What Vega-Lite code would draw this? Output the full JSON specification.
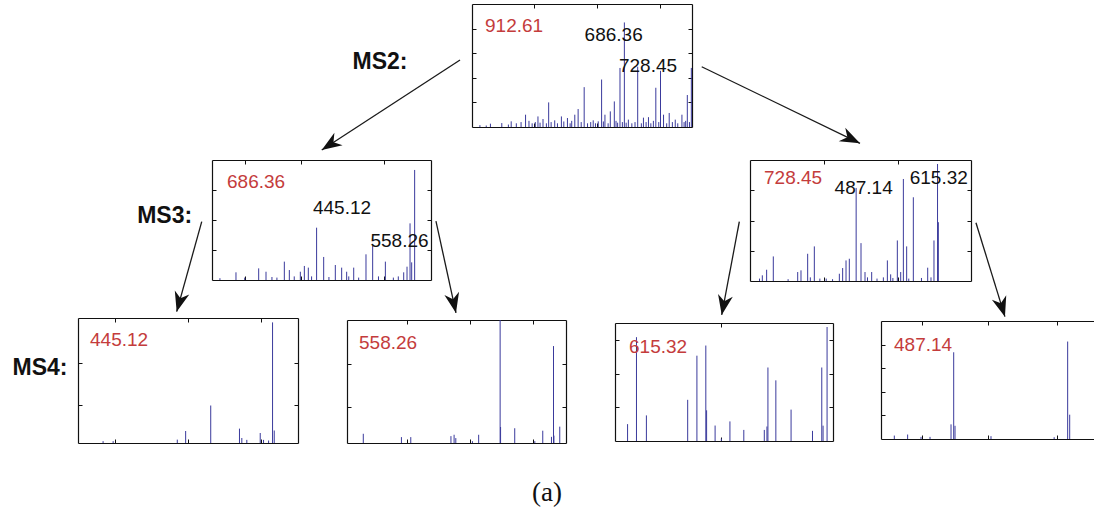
{
"$schema": "https://vega.github.io/schema/vega-lite/v6.json",
"width": 1094, "height": 514, "padding": 0, "autosize": {"type": "none"},
"background": "white",
"config": {"view": {"stroke": null}, "axis": {"labels": false, "title": null, "grid": false, "domainColor": "#111", "tickColor": "#111", "tickSize": -4, "domainWidth": 1.2, "tickWidth": 1}},
"datasets": {
"peaks": [
{"panel":"P1","mz":263.2,"intensity":2.7},{"panel":"P1","mz":299.1,"intensity":3.2},{"panel":"P1","mz":328.8,"intensity":4.6},{"panel":"P1","mz":374.2,"intensity":10},{"panel":"P1","mz":413.4,"intensity":8.6},{"panel":"P1","mz":429.3,"intensity":6.5},{"panel":"P1","mz":447.2,"intensity":20},{"panel":"P1","mz":466.3,"intensity":5.4},{"panel":"P1","mz":487.4,"intensity":8.6},{"panel":"P1","mz":506.5,"intensity":7.3},{"panel":"P1","mz":529.7,"intensity":10},{"panel":"P1","mz":540.3,"intensity":14.6},{"panel":"P1","mz":559.4,"intensity":32.4},{"panel":"P1","mz":587.9,"intensity":5.4},{"panel":"P1","mz":603.8,"intensity":4.6},{"panel":"P1","mz":614.4,"intensity":38.6},{"panel":"P1","mz":625.0,"intensity":10},{"panel":"P1","mz":641.9,"intensity":12.7},{"panel":"P1","mz":654.6,"intensity":20.8},{"panel":"P1","mz":672.5,"intensity":48},{"panel":"P1","mz":686.36,"intensity":85},{"panel":"P1","mz":699.0,"intensity":6},{"panel":"P1","mz":728.45,"intensity":49},{"panel":"P1","mz":746.6,"intensity":7.6},{"panel":"P1","mz":762.5,"intensity":8},{"panel":"P1","mz":785.7,"intensity":31.9},{"panel":"P1","mz":800.5,"intensity":45.7},{"panel":"P1","mz":810.1,"intensity":10},{"panel":"P1","mz":828.0,"intensity":11.4},{"panel":"P1","mz":847.1,"intensity":6},{"panel":"P1","mz":868.2,"intensity":10},{"panel":"P1","mz":885.2,"intensity":26},{"panel":"P1","mz":897.9,"intensity":48},
{"panel":"P1","mz":230,"intensity":1.5},{"panel":"P1","mz":250,"intensity":1.2},{"panel":"P1","mz":320,"intensity":2},{"panel":"P1","mz":345,"intensity":3},{"panel":"P1","mz":360,"intensity":4},{"panel":"P1","mz":385,"intensity":5},{"panel":"P1","mz":395,"intensity":3},{"panel":"P1","mz":405,"intensity":4},{"panel":"P1","mz":420,"intensity":3.5},{"panel":"P1","mz":440,"intensity":3},{"panel":"P1","mz":455,"intensity":4},{"panel":"P1","mz":475,"intensity":3},{"panel":"P1","mz":495,"intensity":4.5},{"panel":"P1","mz":515,"intensity":3},{"panel":"P1","mz":520,"intensity":5},{"panel":"P1","mz":550,"intensity":4},{"panel":"P1","mz":570,"intensity":3},{"panel":"P1","mz":580,"intensity":4},{"panel":"P1","mz":595,"intensity":3},{"panel":"P1","mz":620,"intensity":4.5},{"panel":"P1","mz":635,"intensity":3},{"panel":"P1","mz":660,"intensity":5},{"panel":"P1","mz":665,"intensity":3.5},{"panel":"P1","mz":680,"intensity":4},{"panel":"P1","mz":692,"intensity":3.5},{"panel":"P1","mz":710,"intensity":3},{"panel":"P1","mz":720,"intensity":4},{"panel":"P1","mz":740,"intensity":3},{"panel":"P1","mz":755,"intensity":4},{"panel":"P1","mz":770,"intensity":3},{"panel":"P1","mz":778,"intensity":5},{"panel":"P1","mz":795,"intensity":4},{"panel":"P1","mz":820,"intensity":3},{"panel":"P1","mz":838,"intensity":4},{"panel":"P1","mz":855,"intensity":3},{"panel":"P1","mz":875,"intensity":4},{"panel":"P1","mz":880,"intensity":5},{"panel":"P1","mz":892,"intensity":4},
{"panel":"P2","mz":282.4,"intensity":6.4},{"panel":"P2","mz":328.2,"intensity":9.7},{"panel":"P2","mz":343.0,"intensity":6.9},{"panel":"P2","mz":380.0,"intensity":15.3},{"panel":"P2","mz":390.1,"intensity":8.3},{"panel":"P2","mz":412.3,"intensity":6.9},{"panel":"P2","mz":420.4,"intensity":11.7},{"panel":"P2","mz":428.4,"intensity":10.3},{"panel":"P2","mz":445.12,"intensity":43.6},{"panel":"P2","mz":459.4,"intensity":19.2},{"panel":"P2","mz":482.9,"intensity":12.5},{"panel":"P2","mz":495.7,"intensity":10.3},{"panel":"P2","mz":505.8,"intensity":6.9},{"panel":"P2","mz":520.0,"intensity":10.3},{"panel":"P2","mz":544.8,"intensity":21.4},{"panel":"P2","mz":558.26,"intensity":28.6},{"panel":"P2","mz":583.9,"intensity":15.3},{"panel":"P2","mz":620.9,"intensity":6.4},{"panel":"P2","mz":627.6,"intensity":11.1},{"panel":"P2","mz":633.7,"intensity":47.2},{"panel":"P2","mz":637.0,"intensity":14.7},{"panel":"P2","mz":643.0,"intensity":91.7},
{"panel":"P2","mz":250,"intensity":1.5},{"panel":"P2","mz":300,"intensity":2},{"panel":"P2","mz":355,"intensity":2.5},{"panel":"P2","mz":365,"intensity":2},{"panel":"P2","mz":400,"intensity":3},{"panel":"P2","mz":435,"intensity":3},{"panel":"P2","mz":470,"intensity":2.5},{"panel":"P2","mz":510,"intensity":3},{"panel":"P2","mz":530,"intensity":2},{"panel":"P2","mz":570,"intensity":3},{"panel":"P2","mz":600,"intensity":2},{"panel":"P2","mz":610,"intensity":3},
{"panel":"P3","mz":339.4,"intensity":4.7},{"panel":"P3","mz":346.2,"intensity":9.3},{"panel":"P3","mz":356.7,"intensity":20.3},{"panel":"P3","mz":395.1,"intensity":7.4},{"panel":"P3","mz":400.3,"intensity":8.8},{"panel":"P3","mz":410.8,"intensity":22.5},{"panel":"P3","mz":421.3,"intensity":28.6},{"panel":"P3","mz":460.7,"intensity":6},{"panel":"P3","mz":465.9,"intensity":10.7},{"panel":"P3","mz":471.2,"intensity":17},{"panel":"P3","mz":476.4,"intensity":18.4},{"panel":"P3","mz":487.14,"intensity":76.9},{"panel":"P3","mz":494.8,"intensity":31.3},{"panel":"P3","mz":501.1,"intensity":7.4},{"panel":"P3","mz":511.6,"intensity":7.4},{"panel":"P3","mz":536.3,"intensity":17},{"panel":"P3","mz":541.5,"intensity":5.5},{"panel":"P3","mz":552.0,"intensity":33.5},{"panel":"P3","mz":557.3,"intensity":7.4},{"panel":"P3","mz":561.5,"intensity":84.3},{"panel":"P3","mz":566.7,"intensity":28.6},{"panel":"P3","mz":577.2,"intensity":69.2},{"panel":"P3","mz":599.8,"intensity":11},{"panel":"P3","mz":609.7,"intensity":33.5},{"panel":"P3","mz":615.32,"intensity":96.7},{"panel":"P3","mz":616.6,"intensity":48.6},
{"panel":"P3","mz":335,"intensity":2},{"panel":"P3","mz":380,"intensity":1.5},{"panel":"P3","mz":415,"intensity":3},{"panel":"P3","mz":430,"intensity":2},{"panel":"P3","mz":440,"intensity":2},{"panel":"P3","mz":450,"intensity":1.5},{"panel":"P3","mz":505,"intensity":3},{"panel":"P3","mz":520,"intensity":2},{"panel":"P3","mz":530,"intensity":3},{"panel":"P3","mz":545,"intensity":2.5},{"panel":"P3","mz":570,"intensity":2},{"panel":"P3","mz":590,"intensity":2.5},{"panel":"P3","mz":605,"intensity":3},
{"panel":"P4","mz":184.2,"intensity":1.5},{"panel":"P4","mz":197.9,"intensity":1.5},{"panel":"P4","mz":285.4,"intensity":2.7},{"panel":"P4","mz":296.8,"intensity":9.6},{"panel":"P4","mz":331.0,"intensity":30},{"panel":"P4","mz":370.2,"intensity":11.5},{"panel":"P4","mz":373.4,"intensity":4},{"panel":"P4","mz":380.2,"intensity":2.5},{"panel":"P4","mz":398.5,"intensity":8},{"panel":"P4","mz":403.0,"intensity":2.5},{"panel":"P4","mz":409.9,"intensity":2},{"panel":"P4","mz":415.3,"intensity":96.5},{"panel":"P4","mz":417.6,"intensity":10},
{"panel":"P5","mz":180.5,"intensity":7.5},{"panel":"P5","mz":251.9,"intensity":4.8},{"panel":"P5","mz":269.4,"intensity":4.8},{"panel":"P5","mz":344.6,"intensity":5.6},{"panel":"P5","mz":350.5,"intensity":6.7},{"panel":"P5","mz":353.7,"intensity":4},{"panel":"P5","mz":384.8,"intensity":1.5},{"panel":"P5","mz":396.5,"intensity":6.7},{"panel":"P5","mz":436.7,"intensity":100},{"panel":"P5","mz":437.5,"intensity":13},{"panel":"P5","mz":464.0,"intensity":12},{"panel":"P5","mz":501.6,"intensity":1.5},{"panel":"P5","mz":516.5,"intensity":10},{"panel":"P5","mz":532.8,"intensity":5},{"panel":"P5","mz":536.6,"intensity":78.8},{"panel":"P5","mz":537.4,"intensity":6},{"panel":"P5","mz":548.3,"intensity":13.3},
{"panel":"P6","mz":177.1,"intensity":14.3},{"panel":"P6","mz":196.3,"intensity":88},{"panel":"P6","mz":217.7,"intensity":21.7},{"panel":"P6","mz":306.7,"intensity":34.9},{"panel":"P6","mz":326.6,"intensity":72.3},{"panel":"P6","mz":345.8,"intensity":80.9},{"panel":"P6","mz":347.5,"intensity":26},{"panel":"P6","mz":365.8,"intensity":13.1},{"panel":"P6","mz":379.3,"intensity":2},{"panel":"P6","mz":397.8,"intensity":16.6},{"panel":"P6","mz":427.7,"intensity":9.4},{"panel":"P6","mz":471.9,"intensity":9.4},{"panel":"P6","mz":477.6,"intensity":12.3},{"panel":"P6","mz":479.7,"intensity":62.3},{"panel":"P6","mz":496.8,"intensity":51.4},{"panel":"P6","mz":529.6,"intensity":26.6},{"panel":"P6","mz":575.8,"intensity":8.6},{"panel":"P6","mz":595.8,"intensity":62.3},{"panel":"P6","mz":598.6,"intensity":13},{"panel":"P6","mz":607.2,"intensity":96.6},
{"panel":"P7","mz":171.0,"intensity":2.9},{"panel":"P7","mz":192.0,"intensity":3.8},{"panel":"P7","mz":213.1,"intensity":1.8},{"panel":"P7","mz":227.3,"intensity":1.8},{"panel":"P7","mz":260.4,"intensity":12.4},{"panel":"P7","mz":264.6,"intensity":73.5},{"panel":"P7","mz":266.7,"intensity":11.2},{"panel":"P7","mz":323.4,"intensity":2.4},{"panel":"P7","mz":423.0,"intensity":1.5},{"panel":"P7","mz":444.3,"intensity":82.6},{"panel":"P7","mz":447.5,"intensity":20.6}
],
"panels": [
{"panel":"P1","stage":"MS2","precursor":"912.61"},{"panel":"P2","stage":"MS3","precursor":"686.36"},{"panel":"P3","stage":"MS3","precursor":"728.45"},{"panel":"P4","stage":"MS4","precursor":"445.12"},{"panel":"P5","stage":"MS4","precursor":"558.26"},{"panel":"P6","stage":"MS4","precursor":"615.32"},{"panel":"P7","stage":"MS4","precursor":"487.14"}
],
"annotations": [
{"panel":"P1","label":"686.36","x":652.6,"y":74.8},{"panel":"P1","label":"728.45","x":761,"y":49.6},
{"panel":"P2","label":"445.12","x":496.4,"y":59.7},{"panel":"P2","label":"558.26","x":612.4,"y":32.9},
{"panel":"P3","label":"487.14","x":499.0,"y":77},{"panel":"P3","label":"615.32","x":617.2,"y":85.3}
],
"arrows": [
{"from":"912.61","to":"686.36","x1":42.05,"y1":11.67,"x2":29.41,"y2":29.18,"angle":236.9},
{"from":"912.61","to":"728.45","x1":64.14,"y1":12.98,"x2":78.61,"y2":27.88,"angle":115.8},
{"from":"686.36","to":"445.12","x1":18.44,"y1":43.13,"x2":16.15,"y2":60.64,"angle":195.5},
{"from":"686.36","to":"558.26","x1":39.85,"y1":43.0,"x2":41.68,"y2":60.89,"angle":167.7},
{"from":"728.45","to":"615.32","x1":67.58,"y1":43.13,"x2":65.97,"y2":61.28,"angle":190.7},
{"from":"728.45","to":"487.14","x1":89.21,"y1":43.33,"x2":91.86,"y2":61.61,"angle":162.9}
],
"stages": [
{"stage":"MS2:","x":34.73,"y":12.06},{"stage":"MS3:","x":15.05,"y":42.12},{"stage":"MS4:","x":3.66,"y":71.5}
],
"caption": [{"label":"(a)","x":50.0,"y":95.9}]
},
"layer": [
{"layer": [
 {"data":{"name":"peaks"},"transform":[{"filter":"datum.panel === 'P1'"}],"mark":{"type":"rule","color":"#3a3a9c","strokeWidth":1},
  "encoding":{"x":{"field":"mz","type":"quantitative","scale":{"domain":[205,900],"range":[472,692],"nice":false,"zero":false},"axis":{"orient":"bottom","offset":-387,"values":[400,600,800]}},
   "y":{"field":"intensity","type":"quantitative","scale":{"domain":[0,100],"range":[127,4],"nice":false},"axis":{"orient":"left","offset":-472,"values":[20,40,60,80]}},"y2":{"datum":0}}},
 {"data":{"name":"peaks"},"transform":[{"filter":"datum.panel === 'P1'"}],"mark":{"type":"point","opacity":0},
  "encoding":{"x":{"field":"mz","type":"quantitative","axis":{"orient":"top","offset":-4,"values":[400,600,800]}},"y":{"field":"intensity","type":"quantitative","axis":{"orient":"right","offset":-402,"values":[20,40,60,80]}}}},
 {"data":{"name":"panels"},"transform":[{"filter":"datum.panel === 'P1'"}],"mark":{"type":"text","align":"left","baseline":"middle","dx":13,"dy":22,"font":"Liberation Sans","fontSize":19,"color":"#c43c3c"},
  "encoding":{"x":{"datum":205,"type":"quantitative","axis":null},"y":{"datum":100,"type":"quantitative","axis":null},"text":{"field":"precursor"}}},
 {"data":{"name":"annotations"},"transform":[{"filter":"datum.panel === 'P1'"}],"mark":{"type":"text","align":"center","baseline":"middle","font":"Liberation Sans","fontSize":19,"color":"#111"},
  "encoding":{"x":{"field":"x","type":"quantitative","axis":null},"y":{"field":"y","type":"quantitative","axis":null},"text":{"field":"label"}}}
],"resolve":{"axis":{"x":"independent","y":"independent"}}},
{"layer": [
 {"data":{"name":"peaks"},"transform":[{"filter":"datum.panel === 'P2'"}],"mark":{"type":"rule","color":"#3a3a9c","strokeWidth":1},
  "encoding":{"x":{"field":"mz","type":"quantitative","scale":{"domain":[234,676],"range":[212,431],"nice":false,"zero":false},"axis":{"orient":"bottom","offset":-234,"values":[300,414,582]}},
   "y":{"field":"intensity","type":"quantitative","scale":{"domain":[0,100],"range":[280,160],"nice":false},"axis":{"orient":"left","offset":-212,"values":[25,50,75]}},"y2":{"datum":0}}},
 {"data":{"name":"peaks"},"transform":[{"filter":"datum.panel === 'P2'"}],"mark":{"type":"point","opacity":0},
  "encoding":{"x":{"field":"mz","type":"quantitative","axis":{"orient":"top","offset":-160,"values":[300,414,582]}},"y":{"field":"intensity","type":"quantitative","axis":{"orient":"right","offset":-663,"values":[25,50,75]}}}},
 {"data":{"name":"panels"},"transform":[{"filter":"datum.panel === 'P2'"}],"mark":{"type":"text","align":"left","baseline":"middle","dx":15,"dy":22,"font":"Liberation Sans","fontSize":19,"color":"#c43c3c"},
  "encoding":{"x":{"datum":234,"type":"quantitative","axis":null},"y":{"datum":100,"type":"quantitative","axis":null},"text":{"field":"precursor"}}},
 {"data":{"name":"annotations"},"transform":[{"filter":"datum.panel === 'P2'"}],"mark":{"type":"text","align":"center","baseline":"middle","font":"Liberation Sans","fontSize":19,"color":"#111"},
  "encoding":{"x":{"field":"x","type":"quantitative","axis":null},"y":{"field":"y","type":"quantitative","axis":null},"text":{"field":"label"}}}
],"resolve":{"axis":{"x":"independent","y":"independent"}}},
{"layer": [
 {"data":{"name":"peaks"},"transform":[{"filter":"datum.panel === 'P3'"}],"mark":{"type":"rule","color":"#3a3a9c","strokeWidth":1},
  "encoding":{"x":{"field":"mz","type":"quantitative","scale":{"domain":[320,668],"range":[750,971],"nice":false,"zero":false},"axis":{"orient":"bottom","offset":-233,"values":[436.6,552.5]}},
   "y":{"field":"intensity","type":"quantitative","scale":{"domain":[0,100],"range":[281,160],"nice":false},"axis":{"orient":"left","offset":-750,"values":[25,50,75]}},"y2":{"datum":0}}},
 {"data":{"name":"peaks"},"transform":[{"filter":"datum.panel === 'P3'"}],"mark":{"type":"point","opacity":0},
  "encoding":{"x":{"field":"mz","type":"quantitative","axis":{"orient":"top","offset":-160,"values":[436.6,552.5]}},"y":{"field":"intensity","type":"quantitative","axis":{"orient":"right","offset":-123,"values":[25,50,75]}}}},
 {"data":{"name":"panels"},"transform":[{"filter":"datum.panel === 'P3'"}],"mark":{"type":"text","align":"left","baseline":"middle","dx":14,"dy":18,"font":"Liberation Sans","fontSize":19,"color":"#c43c3c"},
  "encoding":{"x":{"datum":320,"type":"quantitative","axis":null},"y":{"datum":100,"type":"quantitative","axis":null},"text":{"field":"precursor"}}},
 {"data":{"name":"annotations"},"transform":[{"filter":"datum.panel === 'P3'"}],"mark":{"type":"text","align":"center","baseline":"middle","font":"Liberation Sans","fontSize":19,"color":"#111"},
  "encoding":{"x":{"field":"x","type":"quantitative","axis":null},"y":{"field":"y","type":"quantitative","axis":null},"text":{"field":"label"}}}
],"resolve":{"axis":{"x":"independent","y":"independent"}}},
{"layer": [
 {"data":{"name":"peaks"},"transform":[{"filter":"datum.panel === 'P4'"}],"mark":{"type":"rule","color":"#3a3a9c","strokeWidth":1},
  "encoding":{"x":{"field":"mz","type":"quantitative","scale":{"domain":[150,450],"range":[78,298],"nice":false,"zero":false},"axis":{"orient":"bottom","offset":-71,"values":[200,300,400]}},
   "y":{"field":"intensity","type":"quantitative","scale":{"domain":[0,100],"range":[443,318],"nice":false},"axis":{"orient":"left","offset":-78,"values":[30,64]}},"y2":{"datum":0}}},
 {"data":{"name":"peaks"},"transform":[{"filter":"datum.panel === 'P4'"}],"mark":{"type":"point","opacity":0},
  "encoding":{"x":{"field":"mz","type":"quantitative","axis":{"orient":"top","offset":-318,"values":[200,300,400]}},"y":{"field":"intensity","type":"quantitative","axis":{"orient":"right","offset":-796,"values":[30,64]}}}},
 {"data":{"name":"panels"},"transform":[{"filter":"datum.panel === 'P4'"}],"mark":{"type":"text","align":"left","baseline":"middle","dx":12,"dy":22,"font":"Liberation Sans","fontSize":19,"color":"#c43c3c"},
  "encoding":{"x":{"datum":150,"type":"quantitative","axis":null},"y":{"datum":100,"type":"quantitative","axis":null},"text":{"field":"precursor"}}}
],"resolve":{"axis":{"x":"independent","y":"independent"}}},
{"layer": [
 {"data":{"name":"peaks"},"transform":[{"filter":"datum.panel === 'P5'"}],"mark":{"type":"rule","color":"#3a3a9c","strokeWidth":1},
  "encoding":{"x":{"field":"mz","type":"quantitative","scale":{"domain":[150,560],"range":[347,566],"nice":false,"zero":false},"axis":{"orient":"bottom","offset":-71,"values":[262,380,498]}},
   "y":{"field":"intensity","type":"quantitative","scale":{"domain":[0,100],"range":[443,320],"nice":false},"axis":{"orient":"left","offset":-347,"values":[29,64]}},"y2":{"datum":0}}},
 {"data":{"name":"peaks"},"transform":[{"filter":"datum.panel === 'P5'"}],"mark":{"type":"point","opacity":0},
  "encoding":{"x":{"field":"mz","type":"quantitative","axis":{"orient":"top","offset":-320,"values":[262,380,498]}},"y":{"field":"intensity","type":"quantitative","axis":{"orient":"right","offset":-528,"values":[29,64]}}}},
 {"data":{"name":"panels"},"transform":[{"filter":"datum.panel === 'P5'"}],"mark":{"type":"text","align":"left","baseline":"middle","dx":12,"dy":23,"font":"Liberation Sans","fontSize":19,"color":"#c43c3c"},
  "encoding":{"x":{"datum":150,"type":"quantitative","axis":null},"y":{"datum":100,"type":"quantitative","axis":null},"text":{"field":"precursor"}}}
],"resolve":{"axis":{"x":"independent","y":"independent"}}},
{"layer": [
 {"data":{"name":"peaks"},"transform":[{"filter":"datum.panel === 'P6'"}],"mark":{"type":"rule","color":"#3a3a9c","strokeWidth":1},
  "encoding":{"x":{"field":"mz","type":"quantitative","scale":{"domain":[150,620],"range":[615,833],"nice":false,"zero":false},"axis":{"orient":"bottom","offset":-73,"values":[378]}},
   "y":{"field":"intensity","type":"quantitative","scale":{"domain":[0,100],"range":[441,323],"nice":false},"axis":{"orient":"left","offset":-615,"values":[28.6,57.1,85.7]}},"y2":{"datum":0}}},
 {"data":{"name":"peaks"},"transform":[{"filter":"datum.panel === 'P6'"}],"mark":{"type":"point","opacity":0},
  "encoding":{"x":{"field":"mz","type":"quantitative","axis":{"orient":"top","offset":-323,"values":[378]}},"y":{"field":"intensity","type":"quantitative","axis":{"orient":"right","offset":-261,"values":[28.6,57.1,85.7]}}}},
 {"data":{"name":"panels"},"transform":[{"filter":"datum.panel === 'P6'"}],"mark":{"type":"text","align":"left","baseline":"middle","dx":14,"dy":24,"font":"Liberation Sans","fontSize":19,"color":"#c43c3c"},
  "encoding":{"x":{"datum":150,"type":"quantitative","axis":null},"y":{"datum":100,"type":"quantitative","axis":null},"text":{"field":"precursor"}}}
],"resolve":{"axis":{"x":"independent","y":"independent"}}},
{"layer": [
 {"data":{"name":"peaks"},"transform":[{"filter":"datum.panel === 'P7'"}],"mark":{"type":"rule","color":"#3a3a9c","strokeWidth":1},
  "encoding":{"x":{"field":"mz","type":"quantitative","scale":{"domain":[150,500],"range":[881,1103],"nice":false,"zero":false},"axis":{"orient":"bottom","offset":-75,"values":[214,319,427]}},
   "y":{"field":"intensity","type":"quantitative","scale":{"domain":[0,100],"range":[439,321],"nice":false},"axis":{"orient":"left","offset":-881,"values":[20,40,60,80]}},"y2":{"datum":0}}},
 {"data":{"name":"peaks"},"transform":[{"filter":"datum.panel === 'P7'"}],"mark":{"type":"point","opacity":0},
  "encoding":{"x":{"field":"mz","type":"quantitative","axis":{"orient":"top","offset":-321,"values":[214,319,427]}},"y":{"field":"intensity","type":"quantitative","axis":{"orient":"right","offset":9,"values":[20,40,60,80]}}}},
 {"data":{"name":"panels"},"transform":[{"filter":"datum.panel === 'P7'"}],"mark":{"type":"text","align":"left","baseline":"middle","dx":13,"dy":24,"font":"Liberation Sans","fontSize":19,"color":"#c43c3c"},
  "encoding":{"x":{"datum":150,"type":"quantitative","axis":null},"y":{"datum":100,"type":"quantitative","axis":null},"text":{"field":"precursor"}}}
],"resolve":{"axis":{"x":"independent","y":"independent"}}},
{"layer": [
 {"data":{"name":"arrows"},"mark":{"type":"rule","color":"#1a1a1a","strokeWidth":1.3},
  "encoding":{"x":{"field":"x1","type":"quantitative","scale":{"domain":[0,100],"range":[0,1094],"nice":false,"zero":false},"axis":null},
   "y":{"field":"y1","type":"quantitative","scale":{"domain":[0,100],"range":[0,514],"nice":false,"zero":false},"axis":null},
   "x2":{"field":"x2"},"y2":{"field":"y2"}}},
 {"data":{"name":"arrows"},"mark":{"type":"point","shape":"M0,0L0.75,2L0,1.4L-0.75,2Z","filled":true,"color":"#111","opacity":1,"size":400,"strokeWidth":0},
  "encoding":{"x":{"field":"x2","type":"quantitative","axis":null},"y":{"field":"y2","type":"quantitative","axis":null},"angle":{"field":"angle","type":"quantitative","scale":null}}},
 {"data":{"name":"stages"},"mark":{"type":"text","font":"Liberation Sans","fontSize":23,"fontWeight":"bold","align":"center","baseline":"middle","color":"#111"},
  "encoding":{"x":{"field":"x","type":"quantitative","axis":null},"y":{"field":"y","type":"quantitative","axis":null},"text":{"field":"stage"}}},
 {"data":{"name":"caption"},"mark":{"type":"text","font":"Liberation Serif","fontSize":27,"align":"center","baseline":"middle","color":"#111"},
  "encoding":{"x":{"field":"x","type":"quantitative","axis":null},"y":{"field":"y","type":"quantitative","axis":null},"text":{"field":"label"}}}
]}
],
"resolve":{"scale":{"x":"independent","y":"independent"},"axis":{"x":"independent","y":"independent"}}
}
